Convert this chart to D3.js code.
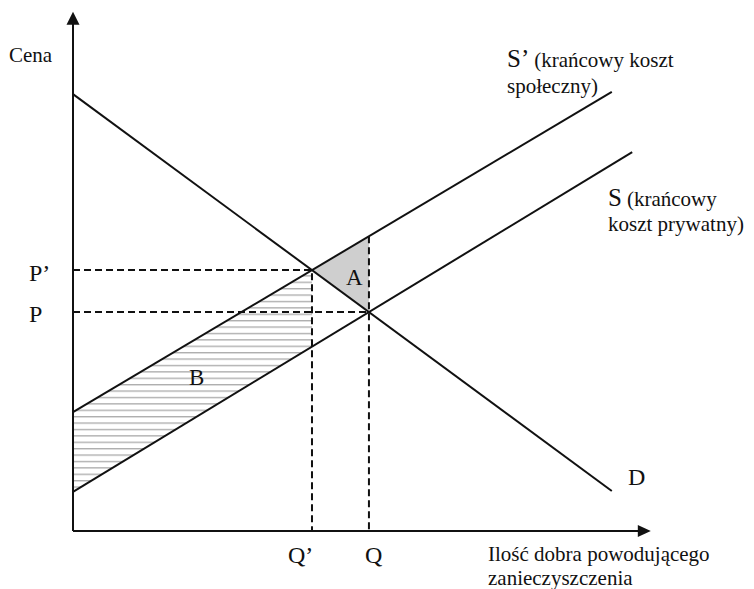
<!DOCTYPE html>
<html lang="pl">
<head>
    <meta charset="UTF-8">
    <title>Efekt zewnętrzny - koszt społeczny</title>
    <script src="https://d3js.org/d3.v7.min.js"></script>
    <style>
        body { margin: 0; background: #fff; }
        svg text { font-family: "Liberation Serif", "Times New Roman", serif; fill: #111; }
        .curve { stroke: #111; stroke-width: 2; fill: none; }
        .guide { stroke: #111; stroke-width: 2; stroke-dasharray: 7 4; fill: none; }
    </style>
</head>
<body>
    <svg id="chart" width="754" height="589"></svg>
    <script>
        // krzywe (ilość, cena) - dwa punkty każdej prostej
        const demand = [[0, 9.93], [8.98, 0.91]];
        const socialSupply = [[0, 2.70], [8.98, 9.98]];
        const privateSupply = [[0, 0.89], [9.32, 8.61]];
        const axisMax = { q: 9.63, p: 11.8 };

        const svg = d3.select("#chart");
        const x = d3.scaleLinear().domain([0, 10]).range([73, 673]);
        const y = d3.scaleLinear().domain([0, 12]).range([531, 3]);

        // przecięcie dwóch prostych
        function lineAt(l, q) {
            const [[x0, y0], [x1, y1]] = l;
            return y0 + (y1 - y0) * (q - x0) / (x1 - x0);
        }
        function cross(a, b) {
            const sa = (a[1][1] - a[0][1]) / (a[1][0] - a[0][0]);
            const sb = (b[1][1] - b[0][1]) / (b[1][0] - b[0][0]);
            const q = (lineAt(b, 0) - lineAt(a, 0)) / (sa - sb);
            return [q, lineAt(a, q)];
        }
        const [q1, p1] = cross(demand, socialSupply);   // Q', P'
        const [q0, p0] = cross(demand, privateSupply);  // Q, P

        const line = d3.line().x(d => x(d[0])).y(d => y(d[1]));

        // wzór kreskowania dla obszaru B
        const pat = svg.append("defs").append("pattern")
            .attr("id", "hatch")
            .attr("patternUnits", "userSpaceOnUse")
            .attr("width", 8).attr("height", 6.4);
        pat.append("line")
            .attr("x1", 0).attr("x2", 8).attr("y1", 0.7).attr("y2", 0.7)
            .attr("stroke", "#a8a8a8").attr("stroke-width", 1.3);

        // obszar B
        const areaB = [[0, lineAt(socialSupply, 0)], [q1, p1], [q1, lineAt(privateSupply, q1)], [0, lineAt(privateSupply, 0)]];
        svg.append("path").attr("d", line(areaB) + "Z").attr("fill", "url(#hatch)");

        // obszar A
        const areaA = [[q1, p1], [q0, lineAt(socialSupply, q0)], [q0, p0]];
        svg.append("path").attr("d", line(areaA) + "Z").attr("fill", "#cfcfcf");

        // linie pomocnicze
        svg.append("path").attr("class", "guide").attr("d", line([[0, p1], [q1, p1], [q1, 0]]));
        svg.append("path").attr("class", "guide").attr("d", line([[0, p0], [q0, p0]]));
        svg.append("path").attr("class", "guide").attr("d", line([[q0, lineAt(socialSupply, q0)], [q0, 0]]));

        // krzywe
        [demand, socialSupply, privateSupply].forEach(l => {
            svg.append("path").attr("class", "curve").attr("d", line(l));
        });

        // osie ze strzałkami
        const ox = x(0), oy = y(0), tipY = y(axisMax.p), tipX = x(axisMax.q);
        svg.append("line").attr("class", "curve").attr("x1", ox).attr("y1", oy).attr("x2", ox).attr("y2", tipY + 12);
        svg.append("line").attr("class", "curve").attr("x1", ox).attr("y1", oy).attr("x2", tipX - 12).attr("y2", oy);
        svg.append("path").attr("fill", "#111")
            .attr("d", `M${ox},${tipY} L${ox - 6.5},${tipY + 13} L${ox + 6.5},${tipY + 13}Z`);
        svg.append("path").attr("fill", "#111")
            .attr("d", `M${tipX},${oy} L${tipX - 13},${oy - 6} L${tipX - 13},${oy + 6}Z`);

        // etykiety
        function label(t, px, py, size) {
            return svg.append("text").attr("x", px).attr("y", py).attr("font-size", size).text(t);
        }
        label("Cena", 9, 62, 21);
        label("P’", 29, y(p1) + 11, 24);
        label("P", 29, y(p0) + 10, 24);
        label("Q’", x(q1) - 24, 563, 24);
        label("Q", x(q0) - 4, 563, 24);
        label("A", x(q0) - 23, 285, 23);
        label("B", 189, 385, 23);
        label("D", 628, 485, 24);

        const s1 = label("S’", 507, 67, 25);
        s1.append("tspan").attr("font-size", 21).attr("dx", 5).text("(krańcowy koszt");
        label("społeczny)", 507, 93, 21);

        const s0 = label("S", 608, 206, 25);
        s0.append("tspan").attr("font-size", 21).attr("dx", 5).text("(krańcowy");
        label("koszt prywatny)", 608, 231, 21);

        label("Ilość dobra powodującego", 488, 561, 21);
        label("zanieczyszczenia", 488, 585, 21);
    </script>
</body>
</html>
